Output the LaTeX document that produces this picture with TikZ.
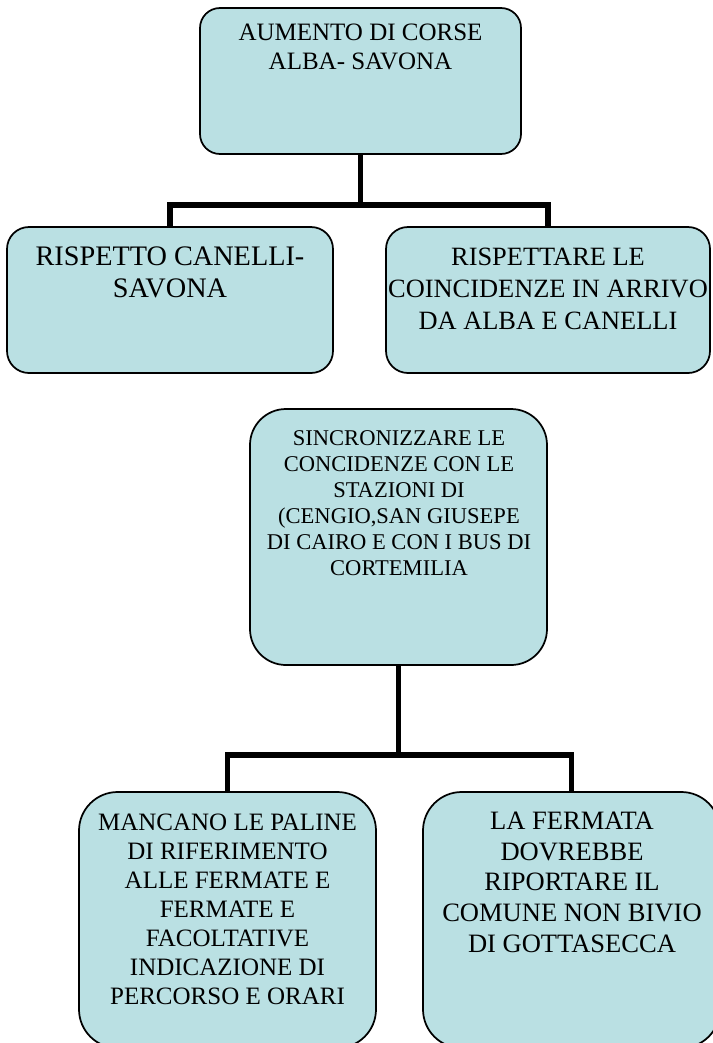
\documentclass[tikz,border=0pt]{standalone}
\usepackage{fontspec}
\setmainfont{Liberation Serif}
\usetikzlibrary{calc}
\definecolor{boxfill}{RGB}{186,224,227}

\begin{document}
\begin{tikzpicture}[x=0.75pt,y=-0.75pt,
  box/.style={draw=black,line width=1.3pt,fill=boxfill,rounded corners=#1,inner sep=0pt},
  link/.style={line width=3.8pt},
  txt/.style={align=center,inner sep=0pt,anchor=base}]

\useasboundingbox (0,0) rectangle (713,1043);
\clip (0,0) rectangle (713,1043);

\node [box=15pt,minimum width=240.75pt,minimum height=109.5pt] (aumento) at (360.5,81) {};
\node [box=16.5pt,minimum width=244.5pt,minimum height=109.5pt] (rispetto) at (170,300) {};
\node [box=16.5pt,minimum width=243pt,minimum height=109.5pt] (coincid) at (548,300) {};
\node [box=27pt,minimum width=222.75pt,minimum height=192pt] (sincro) at (398.5,537) {};
\node [box=29pt,minimum width=222.75pt,minimum height=192pt] (paline) at (227.5,920) {};
\node [box=29pt,minimum width=222.75pt,minimum height=192pt] (fermata) at (571.5,920) {};

\node [txt,font=\fontsize{18.75}{21.75}\selectfont] (aumentotxt) at (360.5,69) {AUMENTO DI CORSE\\ALBA- SAVONA};
\node [txt,font=\fontsize{21.2}{24}\selectfont] (rispettotxt) at (170,297) {RISPETTO CANELLI-\\SAVONA};
\node [txt,font=\fontsize{19.8}{24}\selectfont] (coincidtxt) at (548,329) {RISPETTARE LE\\COINCIDENZE IN ARRIVO\\DA ALBA E CANELLI};
\node [txt,font=\fontsize{16.9}{19.5}\selectfont] (sincrotxt) at (399,575) {SINCRONIZZARE LE\\CONCIDENZE CON LE\\STAZIONI DI\\(CENGIO,SAN GIUSEPE\\DI CAIRO E CON I BUS DI\\CORTEMILIA};
\node [txt,font=\fontsize{18.75}{21.75}\selectfont] (palinetxt) at (227.5,1004) {MANCANO LE PALINE\\DI RIFERIMENTO\\ALLE FERMATE E\\FERMATE E\\FACOLTATIVE\\INDICAZIONE DI\\PERCORSO E ORARI};
\node [txt,font=\fontsize{19.9}{22.9}\selectfont] (fermatatxt) at (572,952) {LA FERMATA\\DOVREBBE\\RIPORTARE IL\\COMUNE NON BIVIO\\DI GOTTASECCA};

\coordinate (bus1) at (360.5,205);
\coordinate (bus2) at (398.5,755);
\draw [link] (aumento.south) -- (bus1);
\draw [link] (rispetto.north) |- (bus1) -| (coincid.north);
\draw [link] (sincro.south) -- (bus2);
\draw [link] (paline.north) |- (bus2) -| (fermata.north);

\end{tikzpicture}
\end{document}
